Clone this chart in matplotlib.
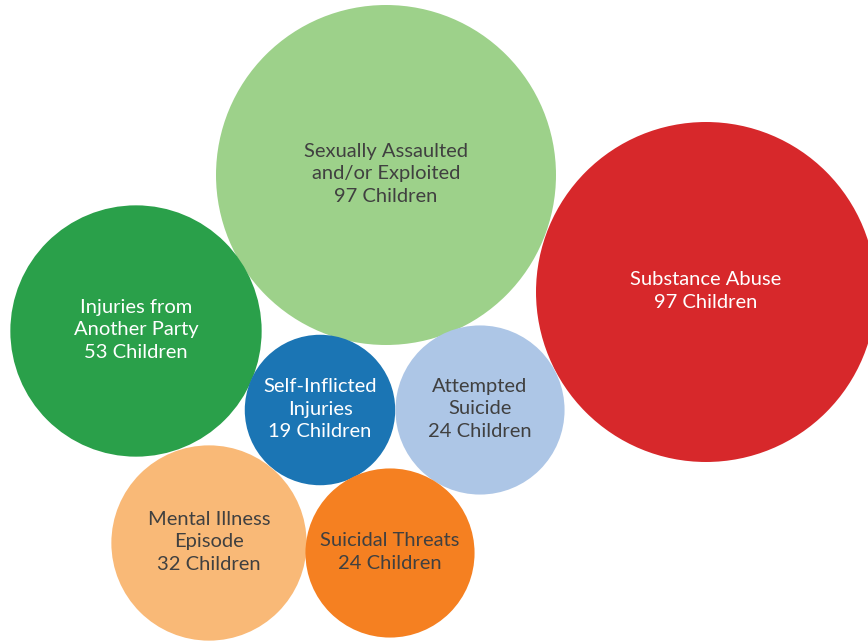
import matplotlib.pyplot as plt
from matplotlib.patches import Circle

# data
categories = [
    "Sexually Assaulted\nand/or Exploited",
    "Substance Abuse",
    "Injuries from\nAnother Party",
    "Self-Inflicted\nInjuries",
    "Attempted\nSuicide",
    "Mental Illness\nEpisode",
    "Suicidal Threats",
]
children = [97, 97, 53, 19, 24, 32, 24]

# layout (pixel space of the 868x643 canvas)
centers = [(386, 175), (706, 292), (136, 331), (320, 410), (480, 410), (209, 543), (390, 553)]
scale = 17.26  # radius per sqrt(children)
colors = ["#9dd18a", "#d7282b", "#2aa04a", "#1b75b4", "#adc6e6", "#f9b977", "#f58021"]
text_colors = ["#404040", "white", "white", "white", "#404040", "#404040", "#404040"]

plt.rcParams["font.family"] = ["Lato", "DejaVu Sans"]

fig = plt.figure(figsize=(8.68, 6.43), dpi=100)
ax = fig.add_axes([0, 0, 1, 1])
ax.set_xlim(0, 868)
ax.set_ylim(643, 0)
ax.set_aspect("equal")
ax.axis("off")

for label, value, (cx, cy), color, tcolor in zip(categories, children, centers, colors, text_colors):
    radius = scale * value ** 0.5
    ax.add_patch(Circle((cx, cy), radius, facecolor=color, edgecolor="none"))
    ax.text(cx, cy - 1, f"{label}\n{value} Children", ha="center", va="center",
            color=tcolor, fontsize=14.5, linespacing=1.42)

fig.savefig("out.png", dpi=100)
